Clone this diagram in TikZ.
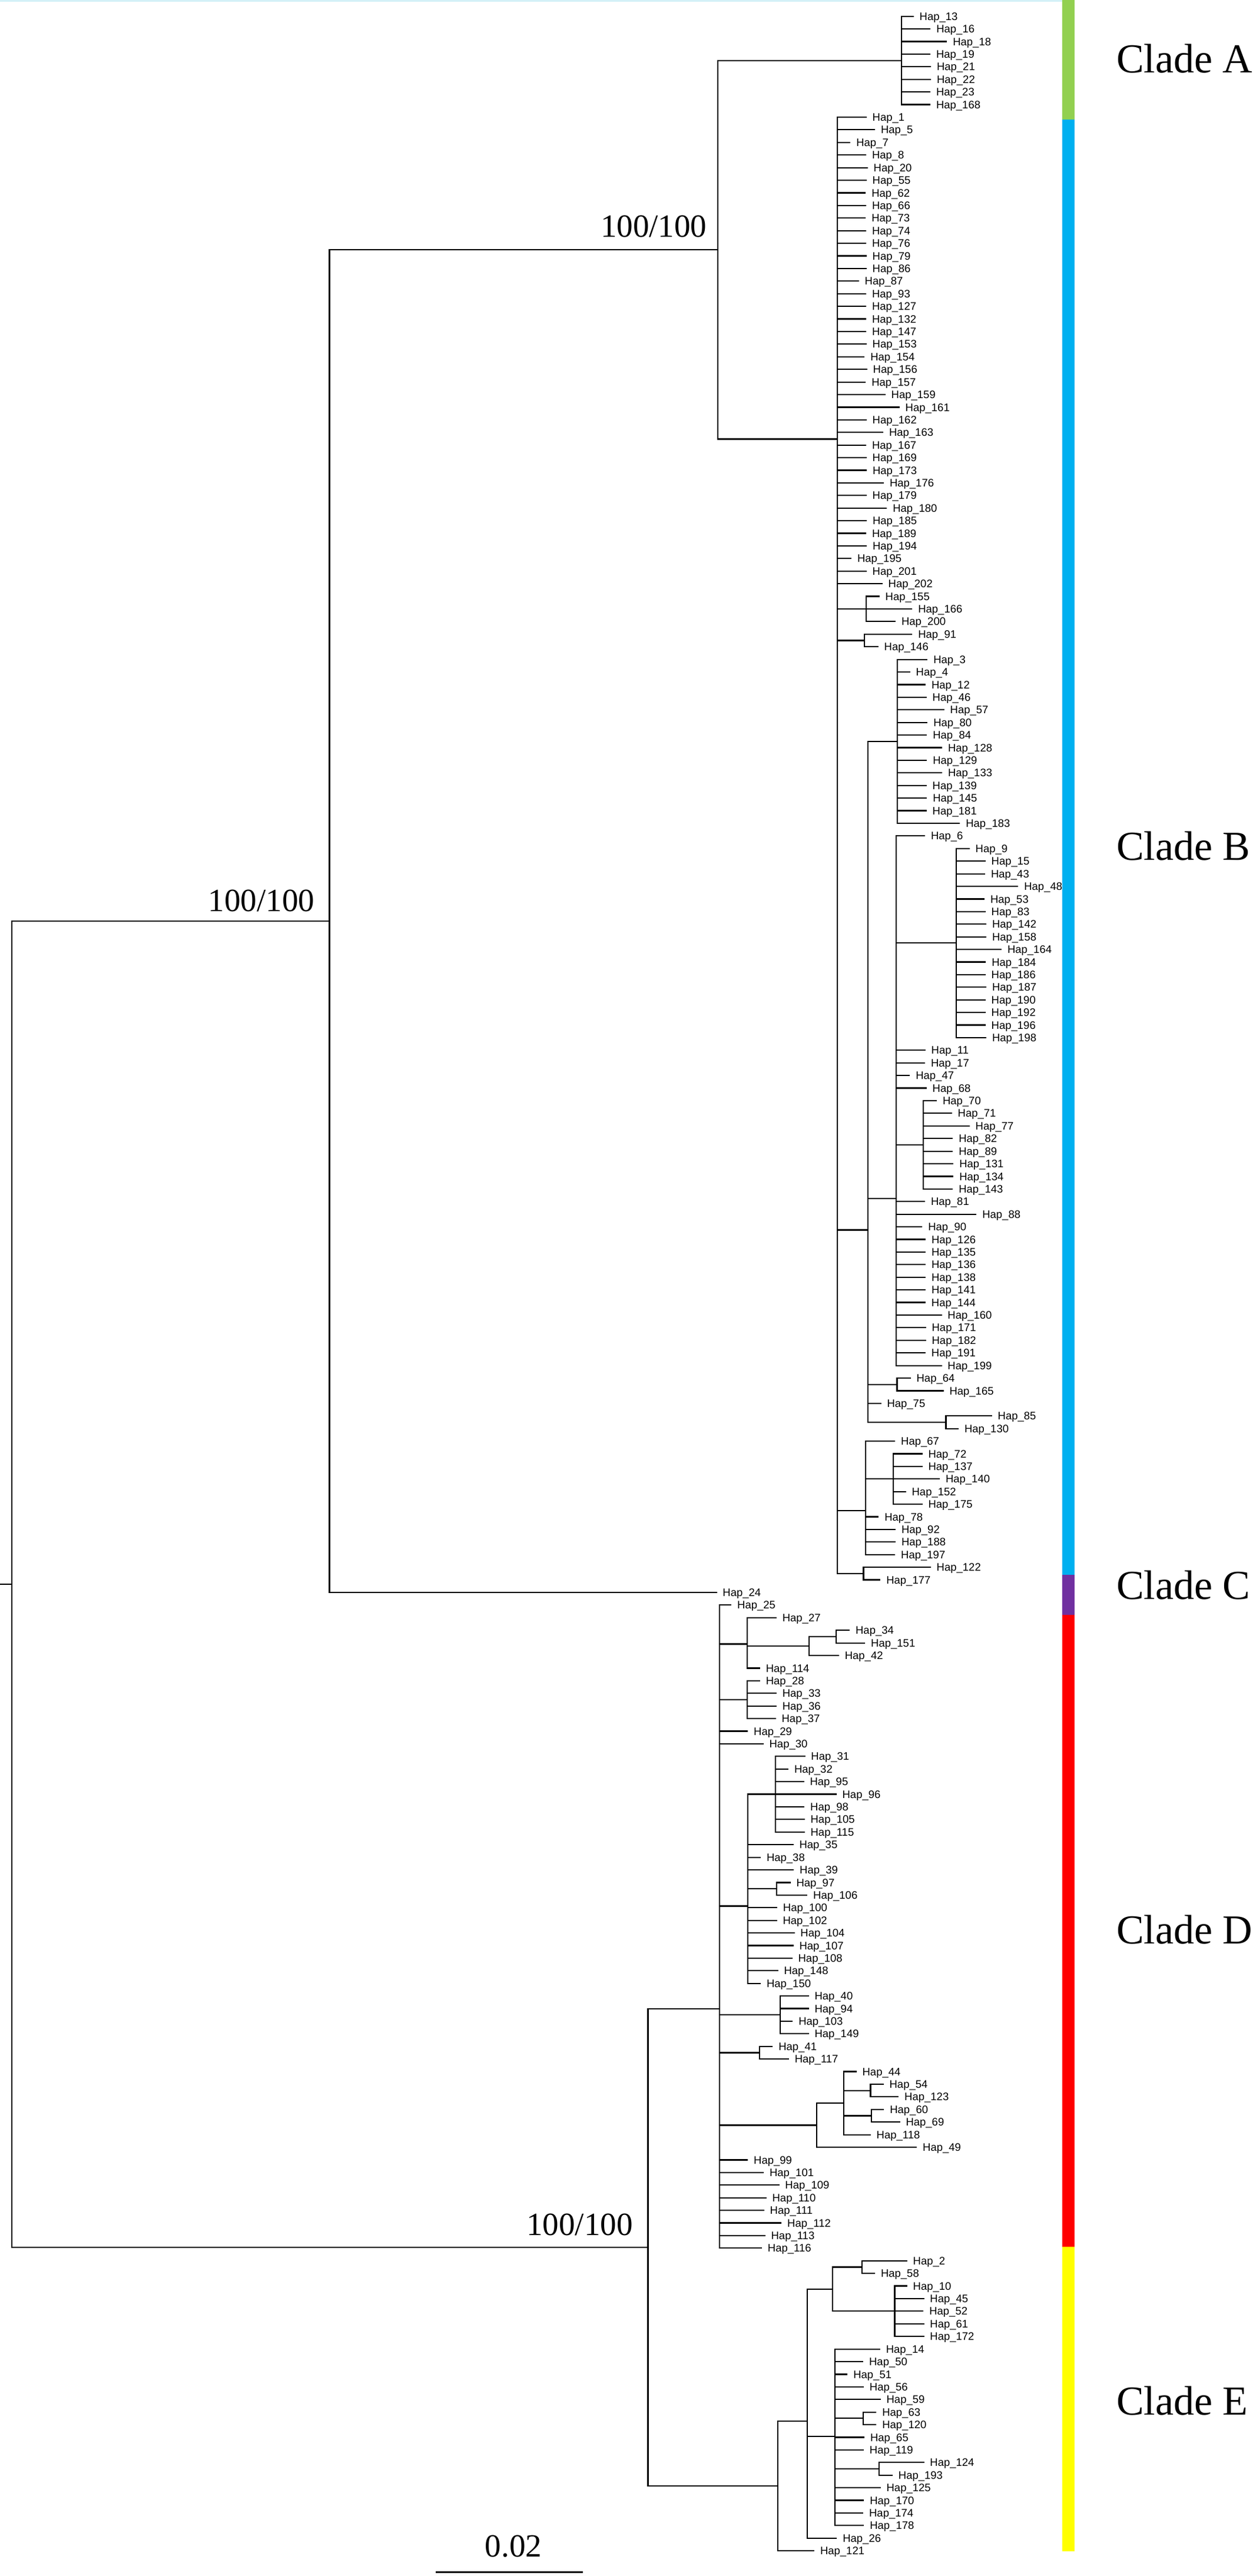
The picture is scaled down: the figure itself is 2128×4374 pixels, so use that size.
\documentclass[tikz,border=0pt]{standalone}
\usepackage{fontspec}
\setmainfont{Liberation Serif}
\newfontfamily\tipfont{Liberation Sans}
\definecolor{cgreen}{HTML}{92D050}
\definecolor{cblue}{HTML}{00B0F0}
\definecolor{cpurple}{HTML}{7030A0}
\definecolor{cred}{HTML}{FF0000}
\definecolor{cyellow}{HTML}{FFFF00}
\definecolor{ctop}{HTML}{D4F1F7}
\newcommand\haptip[4]{%
  \coordinate (h#4) at (#2,{R(#3)});
  \draw[br] (#1) |- (h#4);
  \node[tiplab] (n#4) at (h#4) {Hap\_#4};}
\newcommand\inode[4]{%
  \coordinate (#1) at (#3,{R(#4)});
  \draw[br] (#2) |- (#1);}
\begin{document}
\begin{tikzpicture}[x=0.5pt,y=-0.5pt,
  declare function={R(\i)=27.7+21.41*\i;},
  br/.style={line width=1.1pt,line cap=rect},
  tiplab/.style={font=\tipfont\fontsize{9.25pt}{11pt}\selectfont,anchor=base west,inner sep=0pt,xshift=5.3pt,yshift=-3.3pt},
  boot/.style={font=\fontsize{27.5pt}{30pt}\selectfont,anchor=base east,inner sep=0pt},
  cladelab/.style={font=\fontsize{35pt}{40pt}\selectfont,anchor=base west,inner sep=0pt},
  sbar/.style={line width=1.3pt}]
\useasboundingbox (0,0) rectangle (2128,4374);
\fill[white] (0,0) rectangle (2128,4374);
\fill[ctop] (0,0) rectangle (1804,2.5);
% clade bar
\fill[cgreen] (1804,0) rectangle (1825,203);
\fill[cblue] (1804,203) rectangle (1825,2673.7);
\fill[cpurple] (1804,2673.7) rectangle (1825,2741.6);
\fill[cred] (1804,2741.6) rectangle (1825,3815);
\fill[cyellow] (1804,3815) rectangle (1825,4332);
% clade labels
\node[cladelab] (cA) at (1895.7,123.3) {Clade A};
\node[cladelab] (cB) at (1895.7,1460) {Clade B};
\node[cladelab] (cC) at (1895.7,2715) {Clade C};
\node[cladelab] (cD) at (1895.7,3300) {Clade D};
\node[cladelab] (cE) at (1895.7,4100) {Clade E};
% backbone
\coordinate (root) at (19.8,{R(124.36)});
\coordinate (stub) at (0,{R(124.36)});
\draw[br] (stub) -- (root);
\inode{ABC}{root}{559.5}{71.76}
\inode{DE}{root}{1100.4}{176.95}
\inode{AB}{ABC}{1219.3}{18.515}
\haptip{ABC}{1216.4}{125}{24}
\inode{A}{AB}{1530.7}{3.5}
\inode{B0}{AB}{1422.3}{33.53}
% bootstrap
\node[boot] (bs1) at (1200.7,402.7) {100/100};
\node[boot] (bs2) at (534.6,1547.3) {100/100};
\node[boot] (bs3) at (1075,3795) {100/100};
% clade A
\haptip{A}{1550.7}{0}{13}
\haptip{A}{1579.3}{1}{16}
\haptip{A}{1607.3}{2}{18}
\haptip{A}{1579}{3}{19}
\haptip{A}{1580}{4}{21}
\haptip{A}{1580}{5}{22}
\haptip{A}{1579}{6}{23}
\haptip{A}{1579}{7}{168}
% clade B
\haptip{B0}{1470.7}{8}{1}
\haptip{B0}{1485}{9}{5}
\haptip{B0}{1443.3}{10}{7}
\haptip{B0}{1470}{11}{8}
\haptip{B0}{1472.7}{12}{20}
\haptip{B0}{1470.7}{13}{55}
\haptip{B0}{1469.3}{14}{62}
\haptip{B0}{1470}{15}{66}
\haptip{B0}{1469.3}{16}{73}
\haptip{B0}{1470}{17}{74}
\haptip{B0}{1470}{18}{76}
\haptip{B0}{1470.7}{19}{79}
\haptip{B0}{1470.7}{20}{86}
\haptip{B0}{1457.7}{21}{87}
\haptip{B0}{1470}{22}{93}
\haptip{B0}{1470}{23}{127}
\haptip{B0}{1470}{24}{132}
\haptip{B0}{1470}{25}{147}
\haptip{B0}{1470.7}{26}{153}
\haptip{B0}{1467.3}{27}{154}
\haptip{B0}{1471.7}{28}{156}
\haptip{B0}{1469.3}{29}{157}
\haptip{B0}{1502.7}{30}{159}
\haptip{B0}{1526.7}{31}{161}
\haptip{B0}{1470.7}{32}{162}
\haptip{B0}{1499}{33}{163}
\haptip{B0}{1470}{34}{167}
\haptip{B0}{1470.7}{35}{169}
\haptip{B0}{1471}{36}{173}
\haptip{B0}{1500}{37}{176}
\haptip{B0}{1470.7}{38}{179}
\haptip{B0}{1505.3}{39}{180}
\haptip{B0}{1471}{40}{185}
\haptip{B0}{1470}{41}{189}
\haptip{B0}{1471}{42}{194}
\haptip{B0}{1445}{43}{195}
\haptip{B0}{1470.7}{44}{201}
\haptip{B0}{1497.7}{45}{202}
\inode{c155}{B0}{1471.3}{47}
\haptip{c155}{1492.7}{46}{155}
\haptip{c155}{1548.3}{47}{166}
\haptip{c155}{1520}{48}{200}
\inode{c91}{B0}{1468.3}{49.5}
\haptip{c91}{1548.3}{49}{91}
\haptip{c91}{1490.7}{50}{146}
\inode{B1}{B0}{1474.3}{96.25}
\inode{B2}{B1}{1524}{57.5}
\haptip{B2}{1574.3}{51}{3}
\haptip{B2}{1544.7}{52}{4}
\haptip{B2}{1571}{53}{12}
\haptip{B2}{1572.7}{54}{46}
\haptip{B2}{1602.7}{55}{57}
\haptip{B2}{1574.3}{56}{80}
\haptip{B2}{1573.3}{57}{84}
\haptip{B2}{1599}{58}{128}
\haptip{B2}{1573.3}{59}{129}
\haptip{B2}{1599}{60}{133}
\haptip{B2}{1572.7}{61}{139}
\haptip{B2}{1573.3}{62}{145}
\haptip{B2}{1572.7}{63}{181}
\haptip{B2}{1629.3}{64}{183}
\inode{B3}{B1}{1522.3}{93.762}
\haptip{B3}{1570}{65}{6}
\inode{c9}{B3}{1624.3}{73.5}
\haptip{c9}{1645.7}{66}{9}
\haptip{c9}{1672.7}{67}{15}
\haptip{c9}{1672}{68}{43}
\haptip{c9}{1728.3}{69}{48}
\haptip{c9}{1671}{70}{53}
\haptip{c9}{1672.7}{71}{83}
\haptip{c9}{1674}{72}{142}
\haptip{c9}{1674}{73}{158}
\haptip{c9}{1700}{74}{164}
\haptip{c9}{1673.3}{75}{184}
\haptip{c9}{1672.7}{76}{186}
\haptip{c9}{1674}{77}{187}
\haptip{c9}{1672.7}{78}{190}
\haptip{c9}{1672.7}{79}{192}
\haptip{c9}{1672.7}{80}{196}
\haptip{c9}{1674}{81}{198}
\haptip{B3}{1570.7}{82}{11}
\haptip{B3}{1570}{83}{17}
\haptip{B3}{1544.3}{84}{47}
\haptip{B3}{1572.7}{85}{68}
\inode{c70}{B3}{1568.3}{89.5}
\haptip{c70}{1590}{86}{70}
\haptip{c70}{1615.7}{87}{71}
\haptip{c70}{1645.7}{88}{77}
\haptip{c70}{1617.3}{89}{82}
\haptip{c70}{1617.3}{90}{89}
\haptip{c70}{1618.3}{91}{131}
\haptip{c70}{1618.3}{92}{134}
\haptip{c70}{1617.3}{93}{143}
\haptip{B3}{1570}{94}{81}
\haptip{B3}{1657.3}{95}{88}
\haptip{B3}{1565.3}{96}{90}
\haptip{B3}{1571}{97}{126}
\haptip{B3}{1571}{98}{135}
\haptip{B3}{1571}{99}{136}
\haptip{B3}{1571}{100}{138}
\haptip{B3}{1571}{101}{141}
\haptip{B3}{1570.9}{102}{144}
\haptip{B3}{1598.4}{103}{160}
\haptip{B3}{1571.6}{104}{171}
\haptip{B3}{1571.6}{105}{182}
\haptip{B3}{1570.9}{106}{191}
\haptip{B3}{1598.4}{107}{199}
\inode{c64}{B1}{1523.4}{108.5}
\haptip{c64}{1545.6}{108}{64}
\haptip{c64}{1601.5}{109}{165}
\haptip{B1}{1495.5}{110}{75}
\inode{c85}{B1}{1606.4}{111.5}
\haptip{c85}{1683.7}{111}{85}
\haptip{c85}{1627}{112}{130}
\inode{c67}{B0}{1470.2}{118.5}
\haptip{c67}{1519.2}{113}{67}
\inode{c72}{c67}{1517.3}{116}
\haptip{c72}{1565.5}{114}{72}
\haptip{c72}{1565.5}{115}{137}
\haptip{c72}{1595}{116}{140}
\haptip{c72}{1537.6}{117}{152}
\haptip{c72}{1565.5}{118}{175}
\haptip{c67}{1491.3}{119}{78}
\haptip{c67}{1520}{120}{92}
\haptip{c67}{1520}{121}{188}
\haptip{c67}{1519.2}{122}{197}
\inode{c122}{B0}{1466.4}{123.5}
\haptip{c122}{1579.7}{123}{122}
\haptip{c122}{1494.3}{124}{177}
% clade D
\inode{D0}{DE}{1222.1}{158.04}
\haptip{D0}{1241.2}{126}{25}
\inode{D1}{D0}{1269.2}{129.083}
\haptip{D1}{1317.8}{127}{27}
\inode{D1a}{D1}{1374}{129.25}
\inode{D1b}{D1a}{1420.3}{128.5}
\haptip{D1b}{1442.1}{128}{34}
\haptip{D1b}{1468.2}{129}{151}
\haptip{D1a}{1423.8}{130}{42}
\haptip{D1}{1289.8}{131}{114}
\inode{D2}{D0}{1269.2}{133.5}
\haptip{D2}{1289.8}{132}{28}
\haptip{D2}{1317.8}{133}{33}
\haptip{D2}{1317.8}{134}{36}
\haptip{D2}{1316.6}{135}{37}
\haptip{D0}{1269.2}{136}{29}
\haptip{D0}{1295.6}{137}{30}
\inode{D3}{D0}{1270.3}{149.875}
\inode{D3a}{D3}{1317}{141}
\haptip{D3a}{1366.4}{138}{31}
\haptip{D3a}{1338}{139}{32}
\haptip{D3a}{1364.5}{140}{95}
\haptip{D3a}{1419.6}{141}{96}
\haptip{D3a}{1365.2}{142}{98}
\haptip{D3a}{1365.6}{143}{105}
\haptip{D3a}{1365.6}{144}{115}
\haptip{D3}{1346.5}{145}{35}
\haptip{D3}{1291}{146}{38}
\haptip{D3}{1347.2}{147}{39}
\inode{D3b}{D3}{1318.9}{148.5}
\haptip{D3b}{1341.5}{148}{97}
\haptip{D3b}{1370.2}{149}{106}
\haptip{D3}{1318.9}{150}{100}
\haptip{D3}{1318.5}{151}{102}
\haptip{D3}{1348.4}{152}{104}
\haptip{D3}{1346.5}{153}{107}
\haptip{D3}{1344.6}{154}{108}
\haptip{D3}{1320.5}{155}{148}
\haptip{D3}{1291}{156}{150}
\inode{D4}{D0}{1324.7}{158.5}
\haptip{D4}{1372.5}{157}{40}
\haptip{D4}{1372.5}{158}{94}
\haptip{D4}{1345.3}{159}{103}
\haptip{D4}{1372.5}{160}{149}
\inode{D5}{D0}{1289.8}{161.5}
\haptip{D5}{1311.3}{161}{41}
\haptip{D5}{1338.8}{162}{117}
\inode{D6}{D0}{1386.7}{167.25}
\inode{D6a}{D6}{1432.6}{165.5}
\haptip{D6a}{1453.6}{163}{44}
\inode{D6b}{D6a}{1478.5}{164.5}
\haptip{D6b}{1499.6}{164}{54}
\haptip{D6b}{1525.2}{165}{123}
\inode{D6c}{D6a}{1479.7}{166.5}
\haptip{D6c}{1500.3}{166}{60}
\haptip{D6c}{1527.5}{167}{69}
\haptip{D6a}{1477.7}{168}{118}
\haptip{D6}{1556.2}{169}{49}
\haptip{D0}{1269.2}{170}{99}
\haptip{D0}{1296}{171}{101}
\haptip{D0}{1322.4}{172}{109}
\haptip{D0}{1300.6}{173}{110}
\haptip{D0}{1296.7}{174}{111}
\haptip{D0}{1326.2}{175}{112}
\haptip{D0}{1298.6}{176}{113}
\haptip{D0}{1292.9}{177}{116}
% clade E
\inode{E0}{DE}{1320.8}{195.86}
\inode{E1}{E0}{1371}{190.72}
\inode{E2}{E1}{1414.2}{180.25}
\inode{E2a}{E2}{1464}{178.5}
\haptip{E2a}{1539.7}{178}{2}
\haptip{E2a}{1485}{179}{58}
\inode{E2b}{E2}{1519.5}{182}
\haptip{E2b}{1539.7}{180}{10}
\haptip{E2b}{1568.4}{181}{45}
\haptip{E2b}{1567.3}{182}{52}
\haptip{E2b}{1568.4}{183}{61}
\haptip{E2b}{1568.4}{184}{172}
\inode{E3}{E1}{1418}{191.923}
\haptip{E3}{1493.8}{185}{14}
\haptip{E3}{1465.1}{186}{50}
\haptip{E3}{1438.3}{187}{51}
\haptip{E3}{1465.9}{188}{56}
\haptip{E3}{1494.6}{189}{59}
\inode{E3a}{E3}{1465.9}{190.5}
\haptip{E3a}{1487.3}{190}{63}
\haptip{E3a}{1487.3}{191}{120}
\haptip{E3}{1467}{192}{65}
\haptip{E3}{1465.9}{193}{119}
\inode{E3b}{E3}{1493}{194.5}
\haptip{E3b}{1568.4}{194}{124}
\haptip{E3b}{1514.9}{195}{193}
\haptip{E3}{1494.6}{196}{125}
\haptip{E3}{1466.3}{197}{170}
\haptip{E3}{1465.1}{198}{174}
\haptip{E3}{1466.3}{199}{178}
\haptip{E1}{1420.3}{200}{26}
\haptip{E0}{1382}{201}{121}
% scale bar
\coordinate (sb1) at (739.8,4367.5);
\coordinate (sb2) at (990,4367.5);
\draw[sbar] (sb1) -- (sb2);
\node[font=\fontsize{27.5pt}{30pt}\selectfont,anchor=base,inner sep=0pt] (sbl) at (872,4341) {0.02};
\end{tikzpicture}
\end{document}
